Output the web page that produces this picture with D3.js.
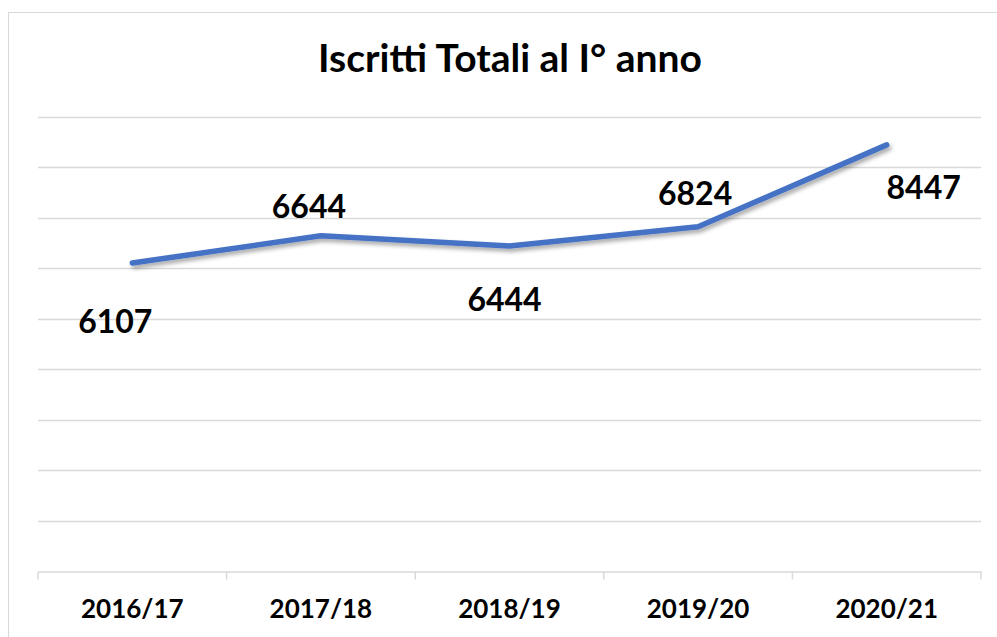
<!DOCTYPE html>
<html>
<head>
<meta charset="utf-8">
<script src="https://cdn.jsdelivr.net/npm/d3@7"></script>
<style>
  html, body { margin: 0; padding: 0; background: #ffffff; }
  svg { display: block; }
  text { font-family: Lato, "Open Sans", sans-serif; font-weight: 700; fill: #000; }
</style>
</head>
<body>
<svg id="chart" width="997" height="637"></svg>
<script>
// ---- data ----
const categories = ["2016/17", "2017/18", "2018/19", "2019/20", "2020/21"];
const values = [6107, 6644, 6444, 6824, 8447];
const yTicks = [0, 1000, 2000, 3000, 4000, 5000, 6000, 7000, 8000, 9000];
const title = "Iscritti Totali al I° anno";

// ---- layout (label placement as in the original, relative to each point) ----
const labelOffsets = [[-17, 70], [-12, -18], [-5, 65], [-3, -22], [37, 54]];

const W = 997, H = 637;
const plot = { left: 38, right: 981, top: 117, bottom: 571 };

const svg = d3.select("#chart");

// outer chart border
svg.append("rect")
  .attr("x", 8.5).attr("y", 12.5)
  .attr("width", 1100).attr("height", 700)
  .attr("fill", "#fff").attr("stroke", "#d9d9d9").attr("stroke-width", 1);

const x = d3.scaleBand().domain(categories).range([plot.left, plot.right]).padding(0);
const y = d3.scaleLinear().domain([0, 9000]).range([plot.bottom, plot.top]);

// gridlines
svg.append("g").selectAll("line")
  .data(yTicks.filter(d => d > 0))
  .join("line")
  .attr("x1", plot.left).attr("x2", plot.right)
  .attr("y1", d => Math.round(y(d)) + 0.5).attr("y2", d => Math.round(y(d)) + 0.5)
  .attr("stroke", "#d9d9d9").attr("stroke-width", 1.3);

// x axis
const xAxis = d3.axisBottom(x).tickSize(0).tickPadding(0);
const gx = svg.append("g").attr("transform", `translate(0,${Math.round(y(0)) + 0.5})`).call(xAxis);
gx.select(".domain").attr("stroke", "#d9d9d9").attr("stroke-width", 1.5);
gx.selectAll(".tick text").remove();
// boundary tick marks (Excel style, between categories)
const boundaries = categories.map(c => x(c)).concat([x(categories[categories.length - 1]) + x.bandwidth()]);
gx.selectAll(".bound").data(boundaries).join("line")
  .attr("class", "bound")
  .attr("x1", d => d).attr("x2", d => d)
  .attr("y1", 0).attr("y2", 8)
  .attr("stroke", "#d9d9d9").attr("stroke-width", 1.5);
// category labels
svg.append("g").selectAll("text")
  .data(categories)
  .join("text")
  .attr("x", d => x(d) + x.bandwidth() / 2)
  .attr("y", 618)
  .attr("text-anchor", "middle")
  .attr("font-size", 26)
  .text(d => d);

// title
svg.append("text")
  .attr("x", 510).attr("y", 72)
  .attr("text-anchor", "middle")
  .attr("font-size", 39)
  .text(title);

// shadow filter
const defs = svg.append("defs");
const f = defs.append("filter").attr("id", "shadow")
  .attr("x", "-10%").attr("y", "-50%").attr("width", "120%").attr("height", "200%");
f.append("feDropShadow").attr("dx", 2).attr("dy", 3).attr("stdDeviation", 2)
  .attr("flood-color", "#000").attr("flood-opacity", 0.35);

// line
const pts = categories.map((c, i) => [x(c) + x.bandwidth() / 2, y(values[i])]);
svg.append("path")
  .datum(pts)
  .attr("d", d3.line())
  .attr("fill", "none")
  .attr("stroke", "#4472C4")
  .attr("stroke-width", 5.5)
  .attr("stroke-linejoin", "round")
  .attr("stroke-linecap", "round")
  .attr("filter", "url(#shadow)");

// data labels
svg.append("g").selectAll("text")
  .data(values)
  .join("text")
  .attr("x", (d, i) => pts[i][0] + labelOffsets[i][0])
  .attr("y", (d, i) => pts[i][1] + labelOffsets[i][1])
  .attr("text-anchor", "middle")
  .attr("font-size", 32)
  .text(d => d);
</script>
</body>
</html>
